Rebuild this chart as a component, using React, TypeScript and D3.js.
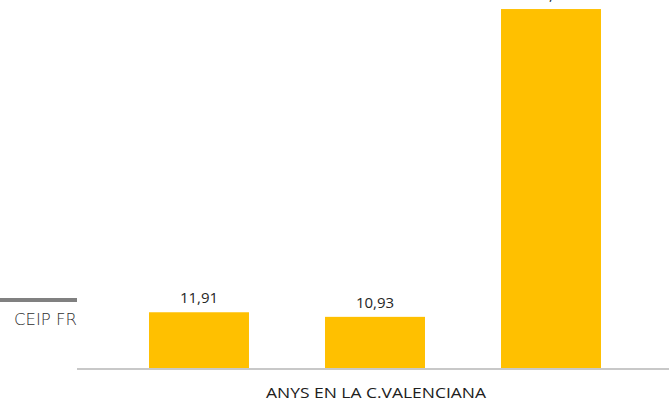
import React from "react";
import * as d3 from "d3";

const series = ["CEIP FR", "Sèrie 2", "Sèrie 3"];
const values = [11.91, 10.93, 76.7];
const valueLabels = ["11,91", "10,93", "76,70"];
const axisTitle = "ANYS EN LA C.VALENCIANA";

const W = 669;
const H = 405;
const baseY = 368;

export default function App() {
  const x = d3
    .scaleBand<string>()
    .domain(series)
    .range([111, 639])
    .paddingInner(0.432)
    .paddingOuter(0.216);
  const y = d3.scaleLinear().domain([0, 80]).range([baseY, baseY - 80 * 4.68]);

  return (
    <svg
      width={W}
      height={H}
      style={{ position: "absolute", left: 0, top: 0, background: "#fff" }}
    >
      <defs>
        <clipPath id="legclip">
          <rect x={0} y={280} width={77} height={60} />
        </clipPath>
      </defs>
      {/* legend fragment */}
      <rect x={0} y={298} width={77} height={4} fill="#808080" />
      <text
        x={14}
        y={325}
        fontFamily="'DejaVu Sans', sans-serif"
        fontSize={16.5}
        fontWeight={200}
        fill="#303030"
        clipPath="url(#legclip)"
      >
        {series[0]}
      </text>
      {/* bars */}
      {series.map((s, i) => (
        <g key={s}>
          <rect
            x={x(s)}
            y={y(values[i])}
            width={x.bandwidth()}
            height={baseY - y(values[i])}
            fill="#FFC000"
          />
          <text
            x={(x(s) as number) + x.bandwidth() / 2}
            y={y(values[i]) - 9}
            textAnchor="middle"
            fontFamily="'Open Sans', sans-serif"
            fontSize={15}
            fill="#262626"
          >
            {valueLabels[i]}
          </text>
        </g>
      ))}
      {/* axis line */}
      <line x1={77} x2={669} y1={369} y2={369} stroke="#c8c8c8" strokeWidth={2} />
      <text
        x={376}
        y={398}
        textAnchor="middle"
        fontFamily="'Open Sans', sans-serif"
        fontSize={14}
        fill="#202020"
        textLength={220}
        lengthAdjust="spacingAndGlyphs"
      >
        {axisTitle}
      </text>
    </svg>
  );
}
